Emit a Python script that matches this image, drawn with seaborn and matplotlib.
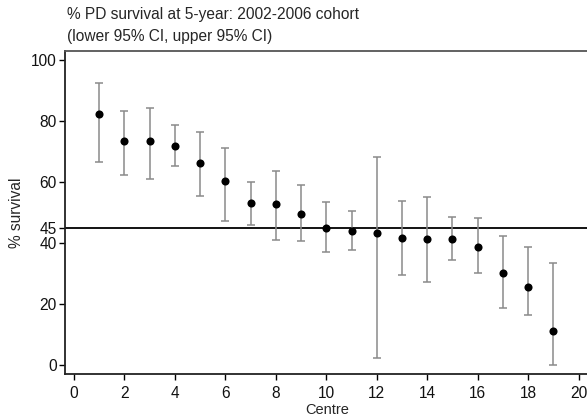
import matplotlib
matplotlib.use("Agg")
import matplotlib.pyplot as plt
import numpy as np
import pandas as pd
import seaborn as sns

centre = list(range(1, 20))
survival = [82.5, 73.4, 73.4, 72.0, 66.3, 60.5, 53.1, 52.7, 49.6, 45.0,
            44.0, 43.3, 41.7, 41.4, 41.4, 38.8, 30.2, 25.8, 11.1]
lower_ci = [66.6, 62.5, 61.0, 65.2, 55.5, 47.3, 46.0, 41.2, 40.6, 37.2,
            37.9, 2.4, 29.7, 27.2, 34.4, 30.4, 18.8, 16.5, 0.0]
upper_ci = [92.6, 83.4, 84.4, 78.7, 76.3, 71.3, 60.1, 63.6, 59.1, 53.6,
            50.5, 68.1, 53.8, 55.3, 48.7, 48.2, 42.4, 38.8, 33.6]
reference = 45
x_ticks = list(range(0, 21, 2))
y_ticks = [0, 20, 40, 45, 60, 80, 100]

df = pd.DataFrame({"Centre": centre, "survival": survival,
                   "lower": lower_ci, "upper": upper_ci})

sns.set_theme(style="white")
plt.rcParams["font.family"] = ["Liberation Sans", "DejaVu Sans"]

FS = 11.2
W, H = 587, 416
fig = plt.figure(figsize=(W / 100, H / 100), dpi=100)
left, right, top, bottom = 65.3, 590, 51, 374.3
ax = fig.add_axes([left / W, (H - bottom) / H, (right - left) / W, (bottom - top) / H])

# confidence intervals
yerr = np.array([df["survival"] - df["lower"], df["upper"] - df["survival"]])
ax.errorbar(df["Centre"], df["survival"], yerr=yerr, fmt="none",
            ecolor="#8a8a8a", elinewidth=1.1, capsize=3.2, capthick=1.1, zorder=2)

# reference line
ax.axhline(reference, color="black", linewidth=1.3, zorder=1)

# point estimates
sns.scatterplot(data=df, x="Centre", y="survival", ax=ax, color="black",
                s=34, edgecolor="black", linewidth=0, zorder=3, legend=False)

ax.set_xlim(-0.34, 20.45)
ax.set_ylim(-2.95, 103.0)
ax.set_xticks(x_ticks)
ax.set_yticks(y_ticks)
ax.tick_params(axis="both", which="major", bottom=True, left=True,
               direction="out", length=4.0, width=1.0, color="black",
               labelsize=FS, pad=2, labelcolor="#111111")
ax.tick_params(axis="x", pad=4.5)
ax.set_xlabel("Centre", fontsize=10.5, va="top")
ax.xaxis.set_label_coords(0.5, -(402.5 - bottom) / (bottom - top))
ax.set_ylabel("% survival", fontsize=FS, labelpad=5)

for side in ["left", "bottom"]:
    ax.spines[side].set_color("#222222")
    ax.spines[side].set_linewidth(1.3)
ax.spines["top"].set_color("#555555")
ax.spines["top"].set_linewidth(1.3)
ax.spines["right"].set_visible(False)

fig.text(67 / W, 1 - 14 / H, "% PD survival at 5-year: 2002-2006 cohort",
         fontsize=FS, ha="left", va="center")
fig.text(67 / W, 1 - 36.5 / H, "(lower 95% CI, upper 95% CI)",
         fontsize=FS, ha="left", va="center")

fig.savefig("out.png", dpi=100)
